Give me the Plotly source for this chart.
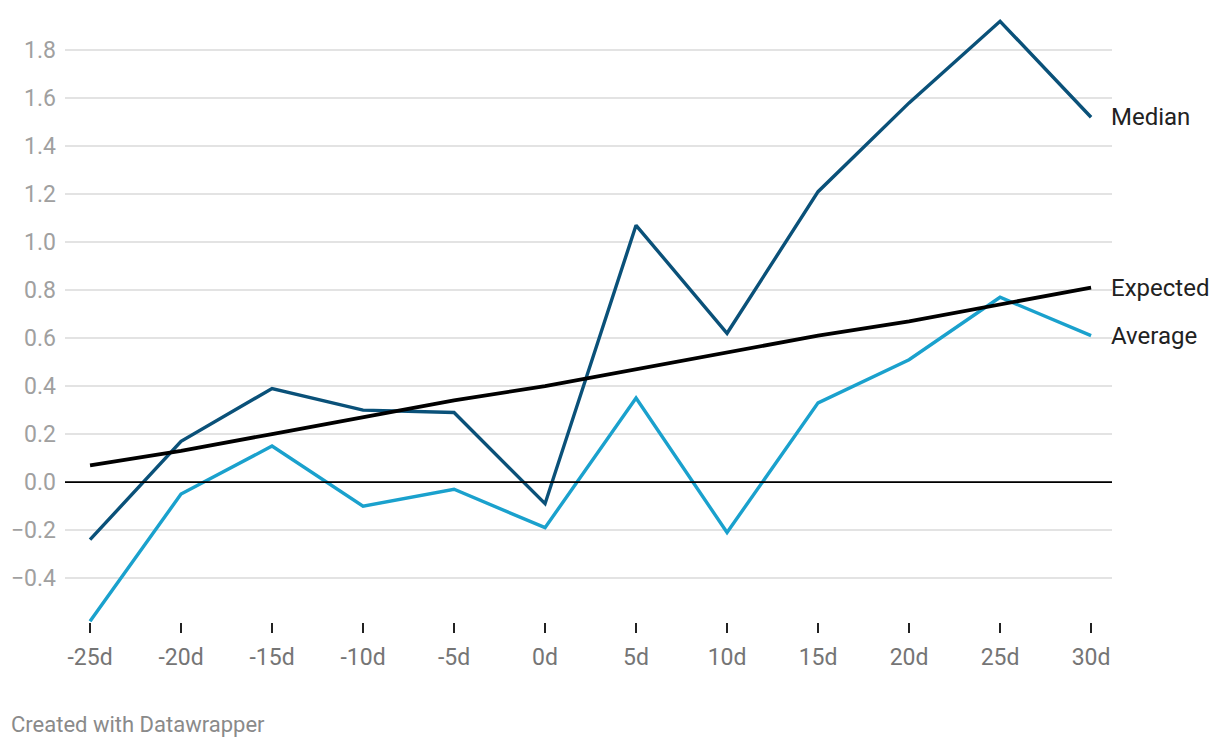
import plotly.graph_objects as go

categories = ["-25d", "-20d", "-15d", "-10d", "-5d", "0d", "5d", "10d", "15d", "20d", "25d", "30d"]
median = [-0.24, 0.17, 0.39, 0.30, 0.29, -0.09, 1.07, 0.62, 1.21, 1.58, 1.92, 1.52]
average = [-0.58, -0.05, 0.15, -0.10, -0.03, -0.19, 0.35, -0.21, 0.33, 0.51, 0.77, 0.61]
expected = [0.07, 0.13, 0.20, 0.27, 0.34, 0.40, 0.47, 0.54, 0.61, 0.67, 0.74, 0.81]
y_ticks = [-0.4, -0.2, 0.0, 0.2, 0.4, 0.6, 0.8, 1.0, 1.2, 1.4, 1.6, 1.8]

xi = list(range(len(categories)))
FONT = "Roboto"

fig = go.Figure()
fig.add_trace(go.Scatter(x=xi, y=average, mode="lines", name="Average",
                         line=dict(color="#1aa1cd", width=3.4)))
fig.add_trace(go.Scatter(x=xi, y=median, mode="lines", name="Median",
                         line=dict(color="#0a5179", width=3.4)))
fig.add_trace(go.Scatter(x=xi, y=expected, mode="lines", name="Expected",
                         line=dict(color="#000000", width=3.8)))

for name, vals in [("Median", median), ("Expected", expected), ("Average", average)]:
    fig.add_annotation(x=1.0, xref="paper", y=vals[-1], yref="y", text=name,
                       showarrow=False, xanchor="left", yanchor="middle", xshift=-3,
                       font=dict(family=FONT, size=24, color="#222222"))

fig.add_shape(type="line", xref="paper", yref="y", x0=0, x1=1, y0=0, y1=0,
              line=dict(color="#000000", width=1.6), layer="above")

fig.update_layout(
    width=1220, height=748,
    margin=dict(l=57, r=116, t=2, b=134),
    plot_bgcolor="white", paper_bgcolor="white",
    showlegend=False,
    xaxis=dict(range=[-0.275, 11.23], tickmode="array", tickvals=xi, ticktext=categories,
               showgrid=False, zeroline=False, showline=False,
               ticks="outside", ticklen=10, tickwidth=2, tickcolor="#222222",
               ticklabelstandoff=4,
               tickfont=dict(family=FONT, size=23, color="#757575")),
    yaxis=dict(range=[-0.583, 1.967], tickmode="array", tickvals=y_ticks,
               ticktext=[("−" if v < 0 else "") + f"{abs(v):.1f}" for v in y_ticks],
               showgrid=True, gridcolor="#e3e3e3", gridwidth=1.5,
               zeroline=False, showline=False, ticks="",
               ticklabelstandoff=8,
               tickfont=dict(family=FONT, size=23, color="#a0a0a0")),
)

fig.add_annotation(x=0, xref="paper", y=-(724 - 622) / 612, yref="paper",
                   text="Created with Datawrapper", showarrow=False,
                   xanchor="left", yanchor="middle", xshift=-56,
                   font=dict(family=FONT, size=22, color="#8a8a8a"))

fig.write_html("out.html")
